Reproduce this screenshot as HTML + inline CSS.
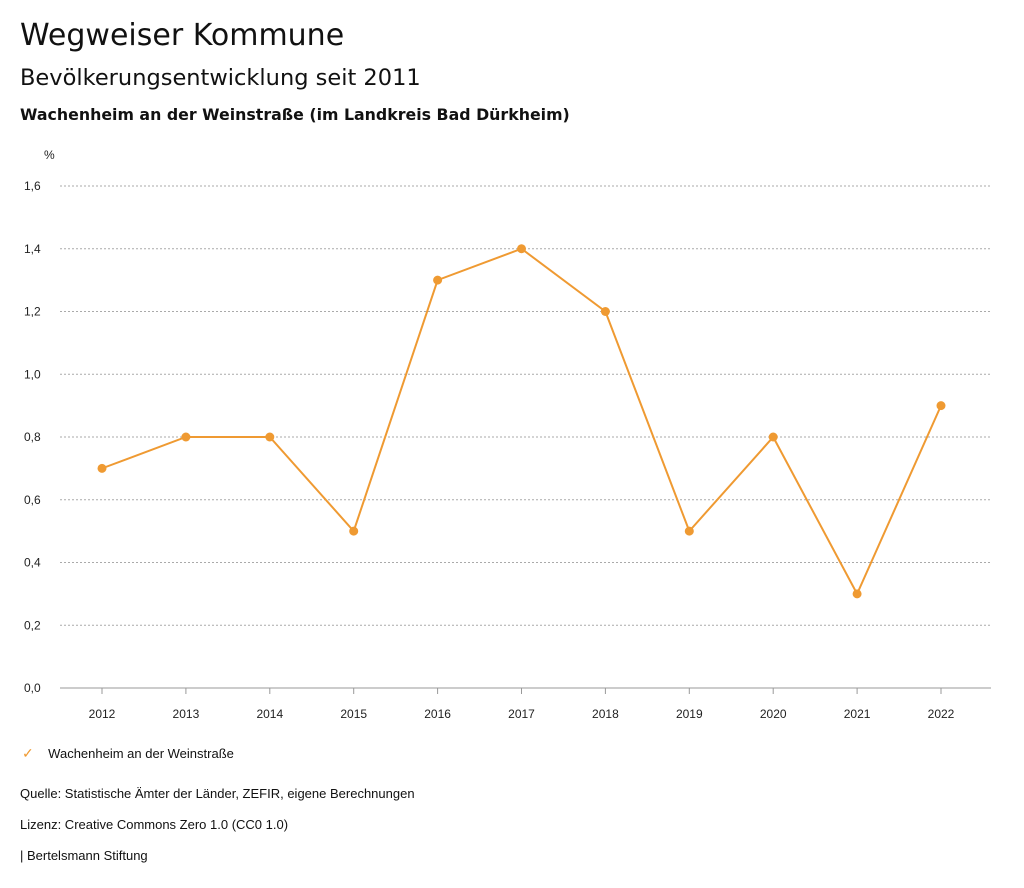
<!DOCTYPE html>
<html><head><meta charset="utf-8"><style>
body{margin:0;width:1024px;height:888px;background:#fff;font-family:"Liberation Sans",sans-serif;color:#111;position:relative;overflow:hidden}
.t{position:absolute;white-space:nowrap}
.dv{font-family:"DejaVu Sans","Liberation Sans",sans-serif}
</style></head><body>
<div class="t dv" style="left:20px;top:18px;font-size:30px">Wegweiser Kommune</div>
<div class="t dv" style="left:20px;top:65px;font-size:22.5px">Bevölkerungsentwicklung seit 2011</div>
<div class="t dv" style="left:20px;top:105px;font-size:15.8px;font-weight:bold">Wachenheim an der Weinstraße (im Landkreis Bad Dürkheim)</div>
<svg id="chart" width="1024" height="730" style="position:absolute;left:0;top:0" font-family="Liberation Sans, sans-serif" font-size="12" fill="#222"></svg>
<div class="t" style="left:22px;top:745px;font-size:13px"><span style="color:#ef9a32;font-size:14px">✓</span>&nbsp;&nbsp;&nbsp;&nbsp;Wachenheim an der Weinstraße</div>
<div class="t" style="left:20px;top:786px;font-size:13px">Quelle: Statistische Ämter der Länder, ZEFIR, eigene Berechnungen</div>
<div class="t" style="left:20px;top:817px;font-size:13px">Lizenz: Creative Commons Zero 1.0 (CC0 1.0)</div>
<div class="t" style="left:20px;top:848px;font-size:13px">| Bertelsmann Stiftung</div>
<script>
const years=["2012","2013","2014","2015","2016","2017","2018","2019","2020","2021","2022"];
const values=[0.7,0.8,0.8,0.5,1.3,1.4,1.2,0.5,0.8,0.3,0.9];
const yTicks=[0,0.2,0.4,0.6,0.8,1.0,1.2,1.4,1.6];
const NS="http://www.w3.org/2000/svg",svg=document.getElementById('chart');
const x=i=>102+i*83.9, y=v=>688-v*(502/1.6);
function mk(t,a){const e=document.createElementNS(NS,t);for(const k in a)e.setAttribute(k,a[k]);svg.appendChild(e);return e;}
let u=mk('text',{x:44,y:159});u.textContent='%';


yTicks.forEach(v=>{
 const g=mk('line',{x1:60,x2:991,y1:y(v),y2:y(v),stroke:v===0?'#999':'#aaa','stroke-dasharray':v===0?'':'2,2'});
 
 
 const t=mk('text',{x:24,y:y(v)+4});t.textContent=v.toFixed(1).replace('.',',');
 
 
});
years.forEach((yr,i)=>{
 const k=mk('line',{x1:x(i),x2:x(i),y1:688,y2:694,stroke:'#999'});
 
 
 const t=mk('text',{x:x(i),y:718,'text-anchor':'middle'});t.textContent=yr;
 
 
});
const p=mk('polyline',{points:values.map((v,i)=>x(i)+','+y(v)).join(' '),fill:'none',stroke:'#ef9a32','stroke-width':2});


values.forEach((v,i)=>{
 const c=mk('circle',{cx:x(i),cy:y(v),r:4.5,fill:'#ef9a32'});
 
 
});
</script>
</body></html>
